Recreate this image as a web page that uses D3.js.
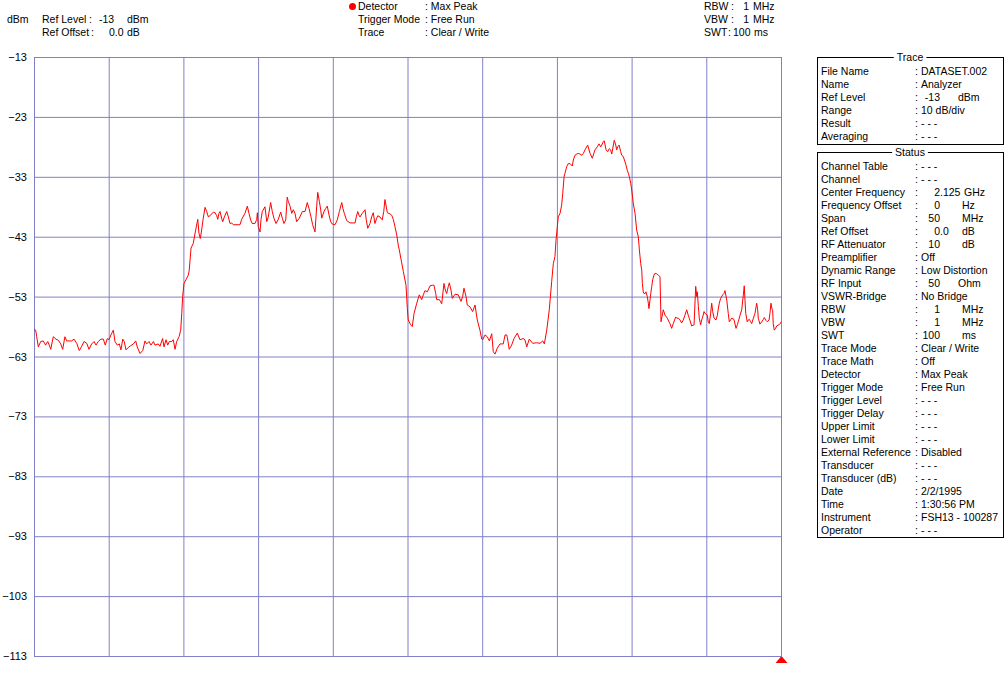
<!DOCTYPE html>
<html><head><meta charset="utf-8">
<script src="https://cdn.jsdelivr.net/npm/d3@7"></script>
<style>
html,body{margin:0;padding:0;background:#fff;}
svg{display:block;font-family:"Liberation Sans",Arial,sans-serif;font-size:10.5px;}
</style></head><body>
<svg id="chart" width="1007" height="677"></svg>
<script>
// ---------- data ----------
const startFreqMHz = 2100;
const spanMHz = 50;
const refLevel = -13;
const bottomLevel = -113;
const yTickValues = [-13,-23,-33,-43,-53,-63,-73,-83,-93,-103,-113];
const xGridMHz = [2100,2105,2110,2115,2120,2125,2130,2135,2140,2145,2150];

const freqOffsetMHz = [
0.00,0.11,0.18,0.29,0.45,0.62,0.78,0.92,1.02,1.12,1.29,1.47,1.63,1.79,1.92,2.07,2.19,2.36,2.52,2.68,
2.86,3.03,3.19,3.35,3.53,3.68,3.86,4.02,4.15,4.30,4.48,4.64,4.77,4.91,5.02,5.15,5.31,5.42,5.58,5.71,
5.82,5.94,6.04,6.16,6.31,6.47,6.65,6.81,6.91,7.10,7.28,7.43,7.54,7.70,7.83,7.99,8.10,8.32,8.43,8.61,
8.70,8.84,8.95,9.06,9.22,9.32,9.44,9.55,9.71,9.82,9.89,9.95,10.04,10.17,10.33,10.39,10.51,10.66,10.82,10.96,
11.04,11.13,11.22,11.33,11.45,11.56,11.67,11.78,12.00,12.12,12.23,12.30,12.38,12.45,12.56,12.63,12.74,12.90,13.01,13.12,
13.23,13.34,13.45,13.67,13.79,13.90,14.12,14.28,14.39,14.50,14.61,14.79,14.91,14.95,15.01,15.13,15.19,15.28,15.46,15.58,
15.68,15.84,15.95,16.06,16.20,16.35,16.51,16.62,16.73,16.85,16.95,17.02,17.14,17.25,17.36,17.47,17.58,17.76,17.96,18.14,
18.29,18.41,18.54,18.65,18.81,18.92,18.99,19.10,19.19,19.26,19.41,19.52,19.63,19.75,19.86,19.97,20.15,20.30,20.44,20.60,
20.68,20.77,20.93,21.15,21.49,21.57,21.67,21.75,21.82,21.97,22.16,22.24,22.34,22.49,22.60,22.71,22.82,22.94,23.01,23.16,
23.27,23.31,23.41,23.49,23.58,23.65,23.83,23.94,24.05,24.16,24.28,24.38,24.45,24.72,24.90,24.99,25.05,25.21,25.32,25.44,
25.62,25.79,25.95,26.06,26.17,26.33,26.51,26.66,26.77,26.89,26.95,27.13,27.29,27.44,27.53,27.62,27.73,27.80,27.91,28.00,
28.18,28.40,28.58,28.69,28.78,28.92,29.00,29.18,29.36,29.52,29.67,29.85,29.97,30.03,30.19,30.34,30.48,30.64,30.74,30.86,
31.01,31.19,31.41,31.53,31.64,31.68,31.81,31.97,32.13,32.35,32.53,32.75,32.86,32.98,33.15,33.38,33.65,33.87,34.05,34.16,
34.32,34.49,34.65,34.76,34.87,34.94,35.03,35.09,35.21,35.32,35.39,35.48,35.54,35.66,35.76,35.88,36.03,36.10,36.21,36.33,
36.43,36.55,36.66,36.77,36.88,37.06,37.22,37.37,37.55,37.70,37.82,37.93,38.00,38.11,38.17,38.29,38.40,38.51,38.60,38.67,
38.78,38.84,38.94,39.00,39.07,39.16,39.27,39.34,39.44,39.56,39.62,39.71,39.78,39.85,39.94,40.01,40.11,40.23,40.34,40.45,
40.52,40.61,40.68,40.72,40.78,40.83,40.90,40.96,41.05,41.12,41.16,41.23,41.28,41.35,41.41,41.50,41.57,41.68,41.79,41.90,
41.97,42.03,42.12,42.24,42.39,42.50,42.57,42.68,42.79,42.95,43.02,43.13,43.24,43.35,43.46,43.57,43.69,43.79,43.86,44.02,
44.18,44.29,44.36,44.40,44.47,44.53,44.62,44.69,44.76,44.85,44.91,45.07,45.13,45.20,45.29,45.36,45.43,45.52,45.65,45.74,
45.80,45.87,45.96,46.10,46.18,46.25,46.37,46.47,46.54,46.63,46.70,46.85,46.99,47.08,47.14,47.26,47.37,47.48,47.54,47.59,
47.64,47.74,47.81,47.88,47.97,48.04,48.15,48.26,48.37,48.44,48.48,48.59,48.71,48.82,48.88,49.00,49.08,49.20,49.26,49.33,
49.40,49.44,49.48,49.55,49.64,49.71,49.87,49.98,50.00
];
const levelDbm = [
-58.5,-58.6,-59.7,-61.4,-60.5,-60.4,-61.1,-60.5,-61.1,-61.8,-59.7,-60.1,-60.3,-60.9,-61.8,-59.7,-60.4,-60.4,-60.4,-60.1,
-60.8,-62.0,-61.3,-60.5,-60.8,-61.8,-60.9,-60.5,-61.1,-60.5,-60.1,-60.1,-61.1,-60.0,-60.2,-59.4,-58.6,-60.5,-61.1,-60.9,
-61.9,-60.1,-60.5,-61.9,-61.5,-61.2,-60.9,-60.4,-61.4,-62.5,-62.0,-60.4,-60.9,-60.5,-61.1,-60.5,-61.1,-60.9,-61.3,-60.0,
-61.4,-60.2,-61.1,-60.5,-60.5,-60.2,-61.8,-60.5,-59.7,-58.6,-55.8,-53.0,-50.8,-50.2,-49.4,-48.6,-44.9,-44.1,-41.9,-40.1,
-42.4,-43.3,-41.9,-39.9,-38.1,-38.8,-39.7,-39.5,-38.9,-39.0,-39.5,-40.1,-39.1,-38.8,-39.9,-40.5,-39.7,-38.8,-39.7,-40.8,
-40.7,-41.0,-41.0,-41.0,-41.0,-40.1,-39.1,-37.9,-39.1,-40.2,-40.8,-40.8,-40.1,-39.0,-41.3,-42.2,-40.2,-38.8,-38.0,-40.5,
-39.7,-37.3,-38.8,-39.9,-40.8,-40.1,-38.9,-39.9,-40.8,-40.2,-36.4,-37.1,-37.9,-39.1,-38.5,-39.1,-40.5,-39.9,-38.8,-38.8,
-37.3,-38.3,-39.7,-41.0,-42.2,-38.0,-35.6,-37.1,-38.5,-39.9,-38.8,-38.3,-37.9,-39.4,-40.5,-40.9,-41.0,-40.2,-38.8,-37.3,
-38.3,-39.1,-40.3,-40.7,-40.7,-39.7,-38.8,-39.4,-39.7,-39.1,-38.5,-40.2,-41.6,-40.8,-39.7,-39.0,-40.8,-39.9,-39.5,-39.7,
-40.1,-40.2,-38.8,-36.8,-38.0,-39.0,-39.2,-39.4,-40.1,-41.3,-42.7,-44.4,-45.2,-48.8,-51.1,-55.0,-56.9,-57.7,-58.0,-55.8,
-54.1,-52.7,-53.5,-52.7,-52.0,-52.2,-51.2,-51.1,-51.1,-52.5,-53.5,-53.5,-54.2,-50.8,-51.9,-52.5,-51.3,-50.7,-51.9,-53.3,
-52.6,-52.7,-53.8,-53.0,-51.6,-53.0,-54.4,-54.7,-55.5,-54.4,-56.9,-58.6,-60.1,-60.2,-59.4,-59.7,-60.4,-59.2,-62.2,-62.6,
-61.6,-60.9,-60.9,-59.4,-59.4,-59.8,-61.8,-61.1,-60.0,-59.1,-60.2,-60.0,-60.2,-61.4,-60.1,-60.8,-60.7,-60.8,-60.4,-60.9,
-58.6,-55.2,-50.5,-47.5,-46.3,-43.6,-41.3,-39.7,-39.1,-37.7,-35.8,-33.0,-32.4,-31.3,-30.8,-30.8,-31.2,-30.2,-29.4,-29.2,
-29.1,-29.2,-29.4,-29.1,-28.5,-27.7,-29.1,-29.9,-28.5,-28.0,-27.5,-28.0,-27.7,-27.1,-27.0,-28.5,-28.8,-28.3,-28.5,-29.2,
-27.7,-26.9,-27.7,-28.5,-28.0,-27.7,-28.8,-29.4,-29.6,-30.5,-31.0,-31.9,-32.4,-33.0,-34.1,-35.2,-37.4,-39.1,-41.9,-43.0,
-45.2,-47.5,-48.6,-50.8,-52.2,-52.5,-52.5,-52.2,-53.0,-54.1,-55.0,-53.6,-52.5,-51.3,-50.2,-49.4,-49.1,-49.2,-49.4,-49.7,
-57.2,-56.4,-55.2,-56.1,-56.6,-57.2,-57.5,-58.3,-57.5,-56.4,-56.6,-56.6,-56.9,-57.4,-56.9,-56.1,-55.2,-56.1,-56.6,-57.9,
-57.7,-51.3,-53.0,-52.2,-54.7,-56.6,-57.7,-56.9,-56.4,-55.5,-55.8,-56.1,-57.2,-57.5,-55.8,-54.1,-55.5,-56.6,-56.9,-56.1,
-55.1,-54.1,-53.3,-52.7,-52.5,-52.0,-53.6,-55.8,-57.2,-56.9,-56.6,-56.8,-58.3,-57.7,-57.2,-56.1,-55.2,-52.7,-51.2,-53.6,
-55.8,-57.2,-56.9,-56.8,-57.2,-57.5,-56.6,-55.8,-54.1,-55.2,-56.6,-57.6,-57.2,-56.8,-56.5,-57.0,-57.2,-56.9,-55.8,-54.1,
-55.1,-55.2,-57.5,-58.6,-58.3,-57.9,-57.7,-57.4,-57.2
];

// header texts
const headerLeft = [["Ref Level", ":", "-13", "dBm"], ["Ref Offset", ":", "0.0", "dB"]];
const headerMid = [["Detector", ": Max Peak"], ["Trigger Mode", ": Free Run"], ["Trace", ": Clear / Write"]];
const headerRight = [["RBW", "1", "MHz"], ["VBW", "1", "MHz"], ["SWT", "100", "ms"]];

// panel rows: [label, value, unit]
const traceRows = [
  ["File Name", "DATASET.002", ""],
  ["Name", "Analyzer", ""],
  ["Ref Level", "-13", "dBm"],
  ["Range", "10 dB/div", ""],
  ["Result", "- - -", ""],
  ["Averaging", "- - -", ""]
];
const statusRows = [
  ["Channel Table", "- - -", ""],
  ["Channel", "- - -", ""],
  ["Center Frequency", "2.125", "GHz"],
  ["Frequency Offset", "0", "Hz"],
  ["Span", "50", "MHz"],
  ["Ref Offset", "0.0", "dB"],
  ["RF Attenuator", "10", "dB"],
  ["Preamplifier", "Off", ""],
  ["Dynamic Range", "Low Distortion", ""],
  ["RF Input", "50", "Ohm"],
  ["VSWR-Bridge", "No Bridge", ""],
  ["RBW", "1", "MHz"],
  ["VBW", "1", "MHz"],
  ["SWT", "100", "ms"],
  ["Trace Mode", "Clear / Write", ""],
  ["Trace Math", "Off", ""],
  ["Detector", "Max Peak", ""],
  ["Trigger Mode", "Free Run", ""],
  ["Trigger Level", "- - -", ""],
  ["Trigger Delay", "- - -", ""],
  ["Upper Limit", "- - -", ""],
  ["Lower Limit", "- - -", ""],
  ["External Reference", "Disabled", ""],
  ["Transducer", "- - -", ""],
  ["Transducer (dB)", "- - -", ""],
  ["Date", "2/2/1995", ""],
  ["Time", "1:30:56 PM", ""],
  ["Instrument", "FSH13 - 100287", ""],
  ["Operator", "- - -", ""]
];

// ---------- drawing ----------
const svg = d3.select("#chart");
const gridColor = "#8080c8";
const plotL = 34, plotR = 781, plotT = 57, plotB = 656;

const x = d3.scaleLinear().domain([startFreqMHz, startFreqMHz + spanMHz]).range([plotL, plotR]);
const y = d3.scaleLinear().domain([bottomLevel, refLevel]).range([plotB, plotT]);

// vertical grid
const gx = svg.append("g").attr("transform", `translate(0,${plotT})`)
  .call(d3.axisBottom(x).tickValues(xGridMHz).tickSize(plotB - plotT).tickFormat(""));
gx.select(".domain").remove();
gx.selectAll(".tick line").attr("stroke", gridColor);

// horizontal grid + labels
const gy = svg.append("g").attr("transform", `translate(${plotL},0)`)
  .call(d3.axisLeft(y).tickValues(yTickValues).tickSize(-(plotR - plotL)).tickPadding(7).tickFormat(d3.format("d")));
gy.select(".domain").remove();
gy.selectAll(".tick line").attr("stroke", gridColor);
gy.attr("font-size", null).attr("font-family", null);
gy.selectAll(".tick text").attr("fill", "#000").style("font-size", "11px");

// trace
const line = d3.line()
  .x((d, i) => x(startFreqMHz + freqOffsetMHz[i]))
  .y(d => y(d));
svg.append("path").datum(levelDbm)
  .attr("d", line).attr("fill", "none").attr("stroke", "#ff0000").attr("stroke-width", 1)
  .attr("stroke-linejoin", "miter");

// marker triangle at end of sweep
const mx = x(startFreqMHz + spanMHz) + 0.5, my = y(bottomLevel);
svg.append("path").attr("d", `M${mx-6},${my+7}L${mx+6},${my+7}L${mx},${my}Z`).attr("fill", "#ff0000");

// header
function txt(xp, yp, s, anchor) {
  return svg.append("text").attr("x", xp).attr("y", yp).attr("text-anchor", anchor || "start").attr("fill", "#000").text(s);
}
txt(7, 23, "dBm");
headerLeft.forEach((r, i) => {
  const by = 23 + i * 13;
  txt(42, by, r[0]);
  txt(i === 0 ? 89 : 91, by, r[1]);
  txt(i === 0 ? 99 : 109, by, r[2]);
  txt(127, by, r[3]);
});
svg.append("circle").attr("cx", 352.5).attr("cy", 6.5).attr("r", 3.5).attr("fill", "#ff0000");
headerMid.forEach((r, i) => {
  const by = 10 + i * 13;
  txt(358, by, r[0]);
  txt(425, by, r[1]);
});
headerRight.forEach((r, i) => {
  const by = 10 + i * 13;
  txt(704, by, r[0]);
  if (r[0] === "SWT") {
    txt(728, by, ":");
    txt(733, by, r[1]);
    txt(754, by, r[2]);
  } else {
    txt(731, by, ":");
    txt(749, by, r[1], "end");
    txt(753, by, r[2]);
  }
});

// panels
function panel(top, height, title, rows) {
  const L = 817, R = 1003;
  svg.append("rect").attr("x", L + 0.5).attr("y", top + 0.5).attr("width", R - L).attr("height", height)
    .attr("fill", "none").attr("stroke", "#000");
  const t = txt(910, top + 4, title, "middle");
  const bb = t.node().getBBox();
  svg.insert("rect", function(){ return t.node(); })
    .attr("x", bb.x - 3).attr("y", top - 2).attr("width", bb.width + 6).attr("height", 5).attr("fill", "#fff");
  rows.forEach((r, i) => {
    const by = top + 18 + i * 13;
    txt(821, by, r[0]);
    txt(915, by, ":");
    if (r[2]) {
      const parts = r[1].split(".");
      txt(940, by, parts[0], "end");
      if (parts.length > 1) txt(940, by, "." + parts[1]);
      const ux = (r[2] === "Ohm" || r[2] === "dBm") ? 958 : (r[2] === "GHz" ? 964 : 962);
      txt(ux, by, r[2]);
    } else {
      txt(921, by, r[1]);
    }
  });
}
panel(57, 87, "Trace", traceRows);
panel(152, 385, "Status", statusRows);
</script>
</body></html>
